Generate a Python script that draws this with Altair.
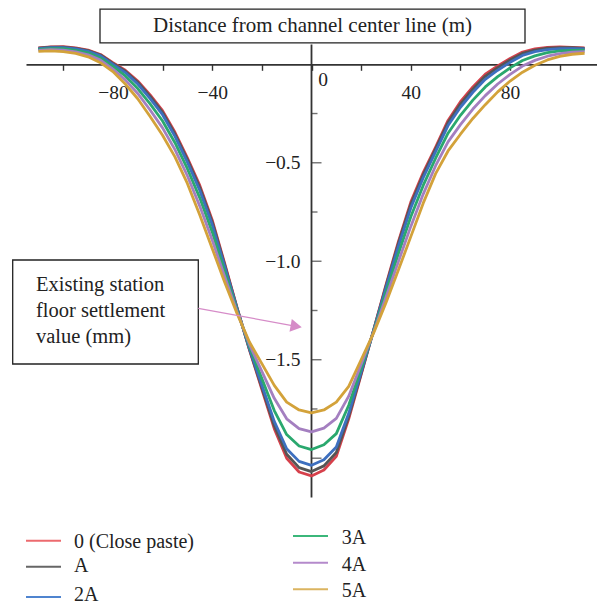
import altair as alt
import pandas as pd

# Distance from the channel centre line (m)
distance = list(range(-110, 115, 5))

case_names = ["0 (Close paste)", "A", "2A", "3A", "4A", "5A"]
curve_colors = ["#d6404b", "#555555", "#3d6fbf", "#2aa86e", "#a47fc0", "#d3a23a"]
legend_colors = ["#ec6a6e", "#666666", "#4f84cf", "#3bb77a", "#b48acb", "#dbb460"]

# Floor settlement of the existing station (mm), one list per case
settle_0 = [0.083, 0.088, 0.089, 0.083, 0.072, 0.050, 0.008, -0.030, -0.085, -0.155, -0.235,
            -0.345, -0.475, -0.615, -0.790, -1.010, -1.235, -1.450, -1.650, -1.850, -2.000,
            -2.070, -2.090,
            -2.060, -1.990, -1.800, -1.575, -1.350, -1.120, -0.900, -0.700, -0.550, -0.420,
            -0.285, -0.190, -0.115, -0.050, -0.008, 0.030, 0.062, 0.078, 0.086, 0.088, 0.086,
            0.083]
settle_a = [0.082, 0.087, 0.087, 0.081, 0.070, 0.047, 0.005, -0.035, -0.091, -0.163, -0.244,
            -0.354, -0.484, -0.626, -0.800, -1.017, -1.237, -1.447, -1.641, -1.835, -1.980,
            -2.048, -2.068,
            -2.039, -1.971, -1.788, -1.570, -1.351, -1.126, -0.910, -0.712, -0.561, -0.429,
            -0.296, -0.202, -0.126, -0.061, -0.017, 0.022, 0.055, 0.072, 0.082, 0.085, 0.084,
            0.081]
settle_2a = [0.080, 0.085, 0.085, 0.078, 0.066, 0.043, 0.000, -0.042, -0.100, -0.174, -0.256,
             -0.366, -0.497, -0.641, -0.815, -1.026, -1.240, -1.443, -1.628, -1.813, -1.952,
             -2.016, -2.036,
             -2.008, -1.943, -1.772, -1.562, -1.353, -1.135, -0.925, -0.730, -0.576, -0.443,
             -0.311, -0.218, -0.142, -0.076, -0.030, 0.010, 0.045, 0.064, 0.075, 0.080, 0.080,
             0.078]
settle_3a = [0.076, 0.080, 0.079, 0.071, 0.058, 0.032, -0.011, -0.059, -0.123, -0.201, -0.288,
             -0.398, -0.530, -0.678, -0.851, -1.050, -1.248, -1.433, -1.595, -1.758, -1.880,
             -1.938, -1.956,
             -1.932, -1.875, -1.731, -1.544, -1.356, -1.158, -0.961, -0.774, -0.615, -0.477,
             -0.350, -0.259, -0.182, -0.115, -0.063, -0.018, 0.019, 0.043, 0.059, 0.068, 0.071,
             0.072]
settle_4a = [0.071, 0.074, 0.072, 0.063, 0.048, 0.021, -0.024, -0.079, -0.148, -0.232, -0.323,
             -0.433, -0.566, -0.720, -0.892, -1.077, -1.256, -1.422, -1.559, -1.696, -1.800,
             -1.850, -1.866,
             -1.847, -1.798, -1.685, -1.523, -1.361, -1.183, -1.002, -0.823, -0.659, -0.515,
             -0.394, -0.306, -0.227, -0.159, -0.100, -0.051, -0.009, 0.020, 0.041, 0.054, 0.062,
             0.064]
settle_5a = [0.066, 0.068, 0.064, 0.055, 0.038, 0.008, -0.037, -0.100, -0.175, -0.265, -0.360,
             -0.470, -0.605, -0.765, -0.935, -1.105, -1.265, -1.410, -1.520, -1.630, -1.715,
             -1.755, -1.770,
             -1.755, -1.715, -1.635, -1.500, -1.365, -1.210, -1.045, -0.875, -0.705, -0.555,
             -0.440, -0.355, -0.275, -0.205, -0.140, -0.085, -0.040, -0.005, 0.022, 0.040, 0.051,
             0.056]
all_cases = [settle_0, settle_a, settle_2a, settle_3a, settle_4a, settle_5a]

x_major = [-100, -80, -60, -40, -20, 0, 20, 40, 60, 80, 100]
y_labels = [-0.5, -1.0, -1.5]
y_major = [-0.5, -1.0, -1.5, -2.0]
y_minor = [-0.25, -0.75, -1.25, -1.75]

axis_title = "Distance from channel center line (m)"
note_lines = ["Existing station", "floor settlement", "value (mm)"]

FONT = "Liberation Serif"
INK = "#222222"
ARROW = "#d68cc8"

# layout (plot area in pixels)
W, H = 571, 453
PAD_L, PAD_T = 26, 44.6
X_DOMAIN = [-115, 115]
Y_DOMAIN = [-2.2, 0.1]
x0 = W * (0 - X_DOMAIN[0]) / (X_DOMAIN[1] - X_DOMAIN[0])
y0 = H * (Y_DOMAIN[1] - 0) / (Y_DOMAIN[1] - Y_DOMAIN[0])

rows = []
for name, vals in zip(case_names, all_cases):
    for d, v in zip(distance, vals):
        rows.append({"case": name, "distance": d, "settlement": v})
df = pd.DataFrame(rows)

xscale = alt.Scale(domain=X_DOMAIN, nice=False, zero=False)
yscale = alt.Scale(domain=Y_DOMAIN, nice=False, zero=False)

x_axis = alt.Axis(
    orient="bottom", offset=-(H - y0), values=x_major, title=None,
    labelExpr="abs(datum.value) == 40 || abs(datum.value) == 80 ? datum.label : ''",
    tickSize=6, tickWidth=1.4, tickColor="#333333", domainColor="#333333", domainWidth=1.8,
    labelPadding=13, labelFont=FONT, labelFontSize=19.5, labelColor=INK, grid=False,
)
y_axis = alt.Axis(
    orient="left", offset=-x0, values=y_labels, format=".1f", title=None,
    ticks=False, tickSize=0, domain=False, labelPadding=11.5, labelFont=FONT,
    labelFontSize=19.5, labelColor=INK, grid=False,
)


def xq(field):
    return alt.X(field, type="quantitative", scale=xscale, axis=x_axis)


def yq(field):
    return alt.Y(field, type="quantitative", scale=yscale, axis=y_axis)


curves = alt.Chart(df).mark_line(strokeWidth=2.8, strokeJoin="round").encode(
    x=xq("distance"),
    y=yq("settlement"),
    color=alt.Color("case:N", scale=alt.Scale(domain=case_names, range=curve_colors), legend=None),
    detail="case:N",
)

# vertical axis line through x = 0
y_line = alt.Chart(pd.DataFrame({"v": [0]})).mark_rule(color="#333333", strokeWidth=1.8).encode(
    x=xq("v")
)

major_df = pd.DataFrame({"v": [0] * len(y_major), "y": y_major})
minor_df = pd.DataFrame({"v": [0] * len(y_minor), "y": y_minor})
major_ticks = alt.Chart(major_df).mark_tick(
    orient="horizontal", size=10, thickness=1.4, xOffset=5, color="#333333"
).encode(x=xq("v"), y=yq("y"))
minor_ticks = alt.Chart(minor_df).mark_tick(
    orient="horizontal", size=6, thickness=1.4, xOffset=3, color="#333333"
).encode(x=xq("v"), y=yq("y"))

zero_label = alt.Chart(pd.DataFrame({"v": [0], "t": ["0"]})).mark_text(
    font=FONT, fontSize=19.5, color=INK, dx=11.5, dy=16, align="center", baseline="middle"
).encode(x=xq("v"), y=yq("v"), text="t:N")

# boxed axis title above the plot
title_box = alt.Chart(pd.DataFrame({"t": [axis_title]})).mark_rect(
    filled=False, stroke="#222222", strokeWidth=1.3
).encode(
    x=alt.value(x0 - 211.5), x2=alt.value(x0 + 213.5),
    y=alt.value(-35.4), y2=alt.value(-1.8),
)
title_text = alt.Chart(pd.DataFrame({"t": [axis_title]})).mark_text(
    font=FONT, fontSize=21, color=INK, align="center", baseline="middle"
).encode(x=alt.value(x0 + 1), y=alt.value(-18.2), text="t:N")

# boxed note with arrow
note_box = alt.Chart(pd.DataFrame({"t": ["note"]})).mark_rect(
    filled=False, stroke="#222222", strokeWidth=1.3
).encode(
    x=alt.value(-13.3), x2=alt.value(172.3),
    y=alt.value(215.4), y2=alt.value(319.4),
)
note_df = pd.DataFrame({"t": note_lines, "py": [240.6, 266.6, 292.2]})
note_text = alt.Chart(note_df).mark_text(
    font=FONT, fontSize=20.5, color=INK, align="left", baseline="middle"
).encode(x=alt.value(10), y=alt.Y("py:Q", scale=None), text="t:N")
arrow_line = alt.Chart(pd.DataFrame({"t": ["arrow"]})).mark_rule(
    color=ARROW, strokeWidth=1.3
).encode(
    x=alt.value(172.3), y=alt.value(263.7), x2=alt.value(270.2), y2=alt.value(281.7)
)
arrow_head = alt.Chart(pd.DataFrame({"t": ["arrow"]})).mark_point(
    shape="triangle-right", filled=True, size=169, angle=10.4, color=ARROW, opacity=1
).encode(x=alt.value(270.2), y=alt.value(281.7))

# two-column legend below the plot
leg_df = pd.DataFrame({
    "name": case_names,
    "lc": legend_colors,
    "x1": [0, 0, 0, 267, 267, 267],
    "x2": [35, 35, 35, 302, 302, 302],
    "ly": [496.1, 522.1, 552.4, 491.4, 518.1, 544.7],
    "tx": [48, 48, 48, 315.7, 315.7, 315.7],
    "ty": [497.1, 521.4, 550.4, 493.4, 520.4, 546.1],
})
leg_lines = alt.Chart(leg_df).mark_rule(strokeWidth=2).encode(
    x=alt.X("x1:Q", scale=None), x2="x2:Q",
    y=alt.Y("ly:Q", scale=None),
    color=alt.Color("lc:N", scale=None),
)
leg_text = alt.Chart(leg_df).mark_text(
    font=FONT, fontSize=20, color=INK, align="left", baseline="middle"
).encode(
    x=alt.X("tx:Q", scale=None), y=alt.Y("ty:Q", scale=None), text="name:N"
)

chart = alt.layer(
    y_line, major_ticks, minor_ticks, curves, zero_label,
    title_box, title_text, note_box, note_text, arrow_line, arrow_head,
    leg_lines, leg_text,
).properties(
    width=W, height=H,
    autosize=alt.AutoSizeParams(type="none"),
    padding={"left": PAD_L, "top": PAD_T, "right": 597 - PAD_L - W, "bottom": 605 - PAD_T - H},
    background="white",
).configure_view(stroke=None)

chart.save("out.html", embed_options={"renderer": "svg", "actions": False})
